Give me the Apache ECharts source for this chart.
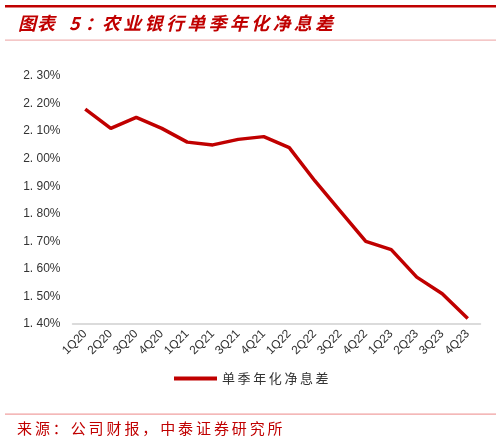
<!DOCTYPE html>
<html><head><meta charset="utf-8">
<script src="https://cdn.jsdelivr.net/npm/echarts@6/dist/echarts.min.js"></script>
<style>html,body{margin:0;padding:0;background:#fff}#c{width:501px;height:445px}</style>
</head><body><div id="c"></div>
<script>
const categories = ['1Q20','2Q20','3Q20','4Q20','1Q21','2Q21','3Q21','4Q21','1Q22','2Q22','3Q22','4Q22','1Q23','2Q23','3Q23','4Q23'];
const nimValues = [2.18, 2.11, 2.15, 2.11, 2.06, 2.05, 2.07, 2.08, 2.04, 1.92, 1.81, 1.70, 1.67, 1.57, 1.51, 1.42];
const seriesName = '单季年化净息差';
const titlePrefix = '图表 5：';
const titleMain = '农业银行单季年化净息差';
const sourceText = '来源：公司财报，中泰证券研究所';

const red = '#c00000';

// spaced text helper (layout only)
function spaced(text, x0, y, advance, font, fill) {
  return Array.from(text).map((ch, i) => ({
    type: 'text', x: x0 + i * advance, y: y,
    style: { text: ch, font: font, fill: fill, textVerticalAlign: 'top' }
  }));
}
const titleFont = 'italic bold 18px "Noto Sans CJK SC"';
const prefixChars = Array.from(titlePrefix);
const prefixX = [18, 37, 0, 69, 85];
const titleEls = [];
prefixChars.forEach((ch, i) => { if (ch !== ' ') titleEls.push({ type: 'text', x: prefixX[i], y: 14, style: { text: ch, font: titleFont, fill: red, textVerticalAlign: 'top' } }); });
titleEls.push(...spaced(titleMain, 102, 14, 21.3, titleFont, red));

const chart = echarts.init(document.getElementById('c'));
chart.setOption({
  animation: false,
  textStyle: { fontFamily: 'Noto Sans CJK SC' },
  graphic: [
    { type: 'rect', shape: { x: 5, y: 5, width: 491, height: 2.5 }, style: { fill: red } },
    ...titleEls,
    { type: 'rect', shape: { x: 5, y: 39.5, width: 491, height: 1.2 }, style: { fill: '#f0b4b4' } },
    { type: 'rect', shape: { x: 5, y: 413.5, width: 491, height: 1.2 }, style: { fill: '#f0a0a0' } },
    ...spaced(sourceText, 17, 421, 17.9, '15px "Noto Sans CJK SC"', red)
  ],
  grid: { left: 72.5, right: 20.5, top: 76, bottom: 121 },
  legend: {
    bottom: 55, left: 169,
    itemWidth: 43, itemHeight: 4, itemGap: 8,
    icon: 'rect',
    textStyle: { fontSize: 13, color: '#333' },
    formatter: name => Array.from(name).join('\u2009'),
    data: [seriesName]
  },
  xAxis: {
    type: 'category', data: categories, boundaryGap: true,
    axisLine: { lineStyle: { color: '#d0d0d0', width: 1.5 } },
    axisTick: { show: false },
    axisLabel: { rotate: 45, fontSize: 12, color: '#333', margin: 8, interval: 0, fontFamily: 'Liberation Sans' }
  },
  yAxis: {
    type: 'value', min: 1.4, max: 2.3, interval: 0.1,
    axisLine: { show: false }, axisTick: { show: false }, splitLine: { show: false },
    axisLabel: { fontSize: 12, color: '#333', margin: 12, fontFamily: 'Liberation Sans',
      formatter: v => v.toFixed(2).replace('.', '. ') + '%' }
  },
  series: [{
    name: seriesName, type: 'line', data: nimValues,
    symbol: 'none', lineStyle: { color: red, width: 3.5 }, itemStyle: { color: red }
  }]
});
</script></body></html>
